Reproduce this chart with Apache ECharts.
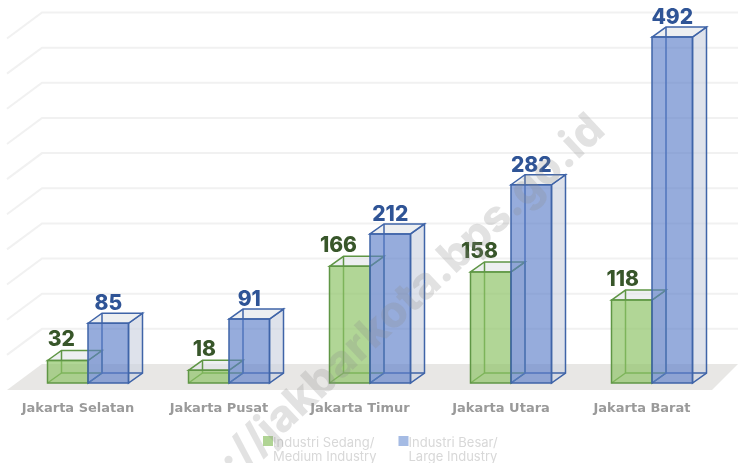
<!DOCTYPE html>
<html>
<head>
    <meta charset="utf-8">
    <style>html,body{margin:0;padding:0;background:#fff}</style>
    <script src="https://cdn.jsdelivr.net/npm/echarts@6/dist/echarts.min.js"></script>
</head>
<body>
    <div id="main" style="width:738px; height:463px"></div>
    <script type="text/javascript">
        // Values
        var categories = ['Jakarta Selatan', 'Jakarta Pusat', 'Jakarta Timur', 'Jakarta Utara', 'Jakarta Barat'];
        var mediumIndustry = [32, 18, 166, 158, 118];
        var largeIndustry = [85, 91, 212, 282, 492];
        var wallTicks = [50, 100, 150, 200, 250, 300, 350, 400, 450, 500];
        var mediumName = 'Industri Sedang/\nMedium Industry';
        var largeName = 'Industri Besar/\nLarge Industry';

        var font = 'Inter';
        var barW = 40.5, depthX = 14, depthY = 10; // box size in px
        var wallDY = 19, sideDX = 35, sideDY = 26; // back wall offset and side wall slant

        var myChart = echarts.init(document.getElementById('main'));

        // one 3D box, dir = -1 left of the category centre, 1 right of it
        function boxItem(dir, stroke, fill, sideFill, labelColor) {
            return function (params, api) {
                var i = api.value(0), v = api.value(1);
                var top = api.coord([i, v]), base = api.coord([i, 0]);
                var x0 = dir < 0 ? top[0] - barW : top[0];
                var x1 = x0 + barW, y0 = top[1], y1 = base[1];
                var dx = depthX, dy = depthY;
                var line = {fill: 'none', stroke: stroke, lineWidth: 1.5, lineJoin: 'round'};
                var kids = [
                    {type: 'polygon', shape: {points: [[x1, y0], [x1 + dx, y0 - dy], [x1 + dx, y1 - dy], [x1, y1]]},
                        style: {fill: sideFill, stroke: stroke, lineWidth: 1.5}},
                    {type: 'polygon', shape: {points: [[x0, y0], [x0 + dx, y0 - dy], [x1 + dx, y0 - dy], [x1, y0]]},
                        style: {fill: 'rgba(225,228,232,0.6)', stroke: stroke, lineWidth: 1.5}},
                    {type: 'polyline', shape: {points: [[x0 + dx, y0 - dy], [x0 + dx, y1 - dy], [x1 + dx, y1 - dy]]}, style: line},
                    {type: 'polyline', shape: {points: [[x0, y1], [x0 + dx, y1 - dy]]}, style: line},
                    {type: 'rect', shape: {x: x0, y: y0, width: barW, height: y1 - y0},
                        style: {fill: fill, stroke: stroke, lineWidth: 1.5}}
                ];
                kids.push({
                    type: 'text',
                    style: dir < 0 ? {
                        x: x1 - 13, y: y0 - dy, text: String(v), fill: labelColor,
                        font: '800 21px ' + font, textAlign: 'right', textVerticalAlign: 'bottom'
                    } : {
                        x: x0 + barW / 2, y: y0 - dy + 1, text: String(v), fill: labelColor,
                        font: '800 21px ' + font, textAlign: 'center', textVerticalAlign: 'bottom'
                    }
                });
                return {type: 'group', children: kids};
            };
        }

        var option = {
            animation: false,
            backgroundColor: '#fff',
            grid: {left: 17.5, right: 15.5, top: 31.5, bottom: 80},
            xAxis: {
                type: 'category',
                data: categories,
                axisLine: {show: false},
                axisTick: {show: false},
                axisLabel: {
                    margin: 19, color: '#9a9a9a', fontFamily: 'DejaVu Sans', fontWeight: 700, fontSize: 13,
                    padding: [0, 20, 0, 0], interval: 0
                }
            },
            yAxis: {type: 'value', min: 0, max: 500, interval: 50, show: false},
            legend: {
                data: [mediumName, largeName],
                left: 263, top: 436, padding: 0, itemWidth: 10, itemHeight: 28, itemGap: 22,
                // square at the top of the two text lines
                icon: 'path://M0 0H10V10H0Z M0 28H0.01',
                textStyle: {color: '#d8d8d8', fontFamily: font, fontSize: 13, lineHeight: 14, padding: [0, 0, 0, -5]}
            },
            graphic: [{
                type: 'text', z: 100, silent: true,
                x: 598, y: 123, rotation: 43 * Math.PI / 180,
                style: {
                    text: 'http://jakbarkota.bps.go.id', fill: 'rgba(140,140,140,0.25)',
                    font: '800 44px ' + font, textAlign: 'right', textVerticalAlign: 'middle'
                }
            }],
            series: [
                {
                    // floor under the boxes
                    type: 'custom', name: 'floor', silent: true, z: 1,
                    data: [0],
                    renderItem: function (params, api) {
                        var y = api.coord([0, 0])[1];
                        return {
                            type: 'polygon',
                            shape: {points: [[7, y + 7], [712, y + 7], [738, y - wallDY], [42, y - wallDY]]},
                            style: {fill: '#e8e7e5'}
                        };
                    }
                },
                {
                    // lines on the back and side wall
                    type: 'custom', name: 'walls', silent: true, z: 1,
                    data: wallTicks,
                    encode: {y: 0},
                    renderItem: function (params, api) {
                        var y = api.coord([0, api.value(0)])[1] - wallDY;
                        return {
                            type: 'polyline',
                            shape: {points: [[42 - sideDX, y + sideDY], [42, y], [738, y]]},
                            style: {fill: 'none', stroke: '#f1f1f1', lineWidth: 2}
                        };
                    }
                },
                {
                    type: 'custom', name: mediumName, z: 2,
                    itemStyle: {color: '#b0d494'},
                    data: mediumIndustry.map(function (v, i) { return [i, v]; }),
                    encode: {x: 0, y: 1},
                    renderItem: boxItem(-1, '#5f9645', 'rgba(140,195,100,0.68)', 'rgba(225,228,232,0.7)', '#38562a')
                },
                {
                    type: 'custom', name: largeName, z: 3,
                    itemStyle: {color: '#a5bbe4'},
                    data: largeIndustry.map(function (v, i) { return [i, v]; }),
                    encode: {x: 0, y: 1},
                    renderItem: boxItem(1, '#3f64a8', 'rgba(90,125,200,0.64)', 'rgba(205,210,225,0.65)', '#2f5496')
                }
            ]
        };
        myChart.setOption(option);
    </script>
</body>
</html>
